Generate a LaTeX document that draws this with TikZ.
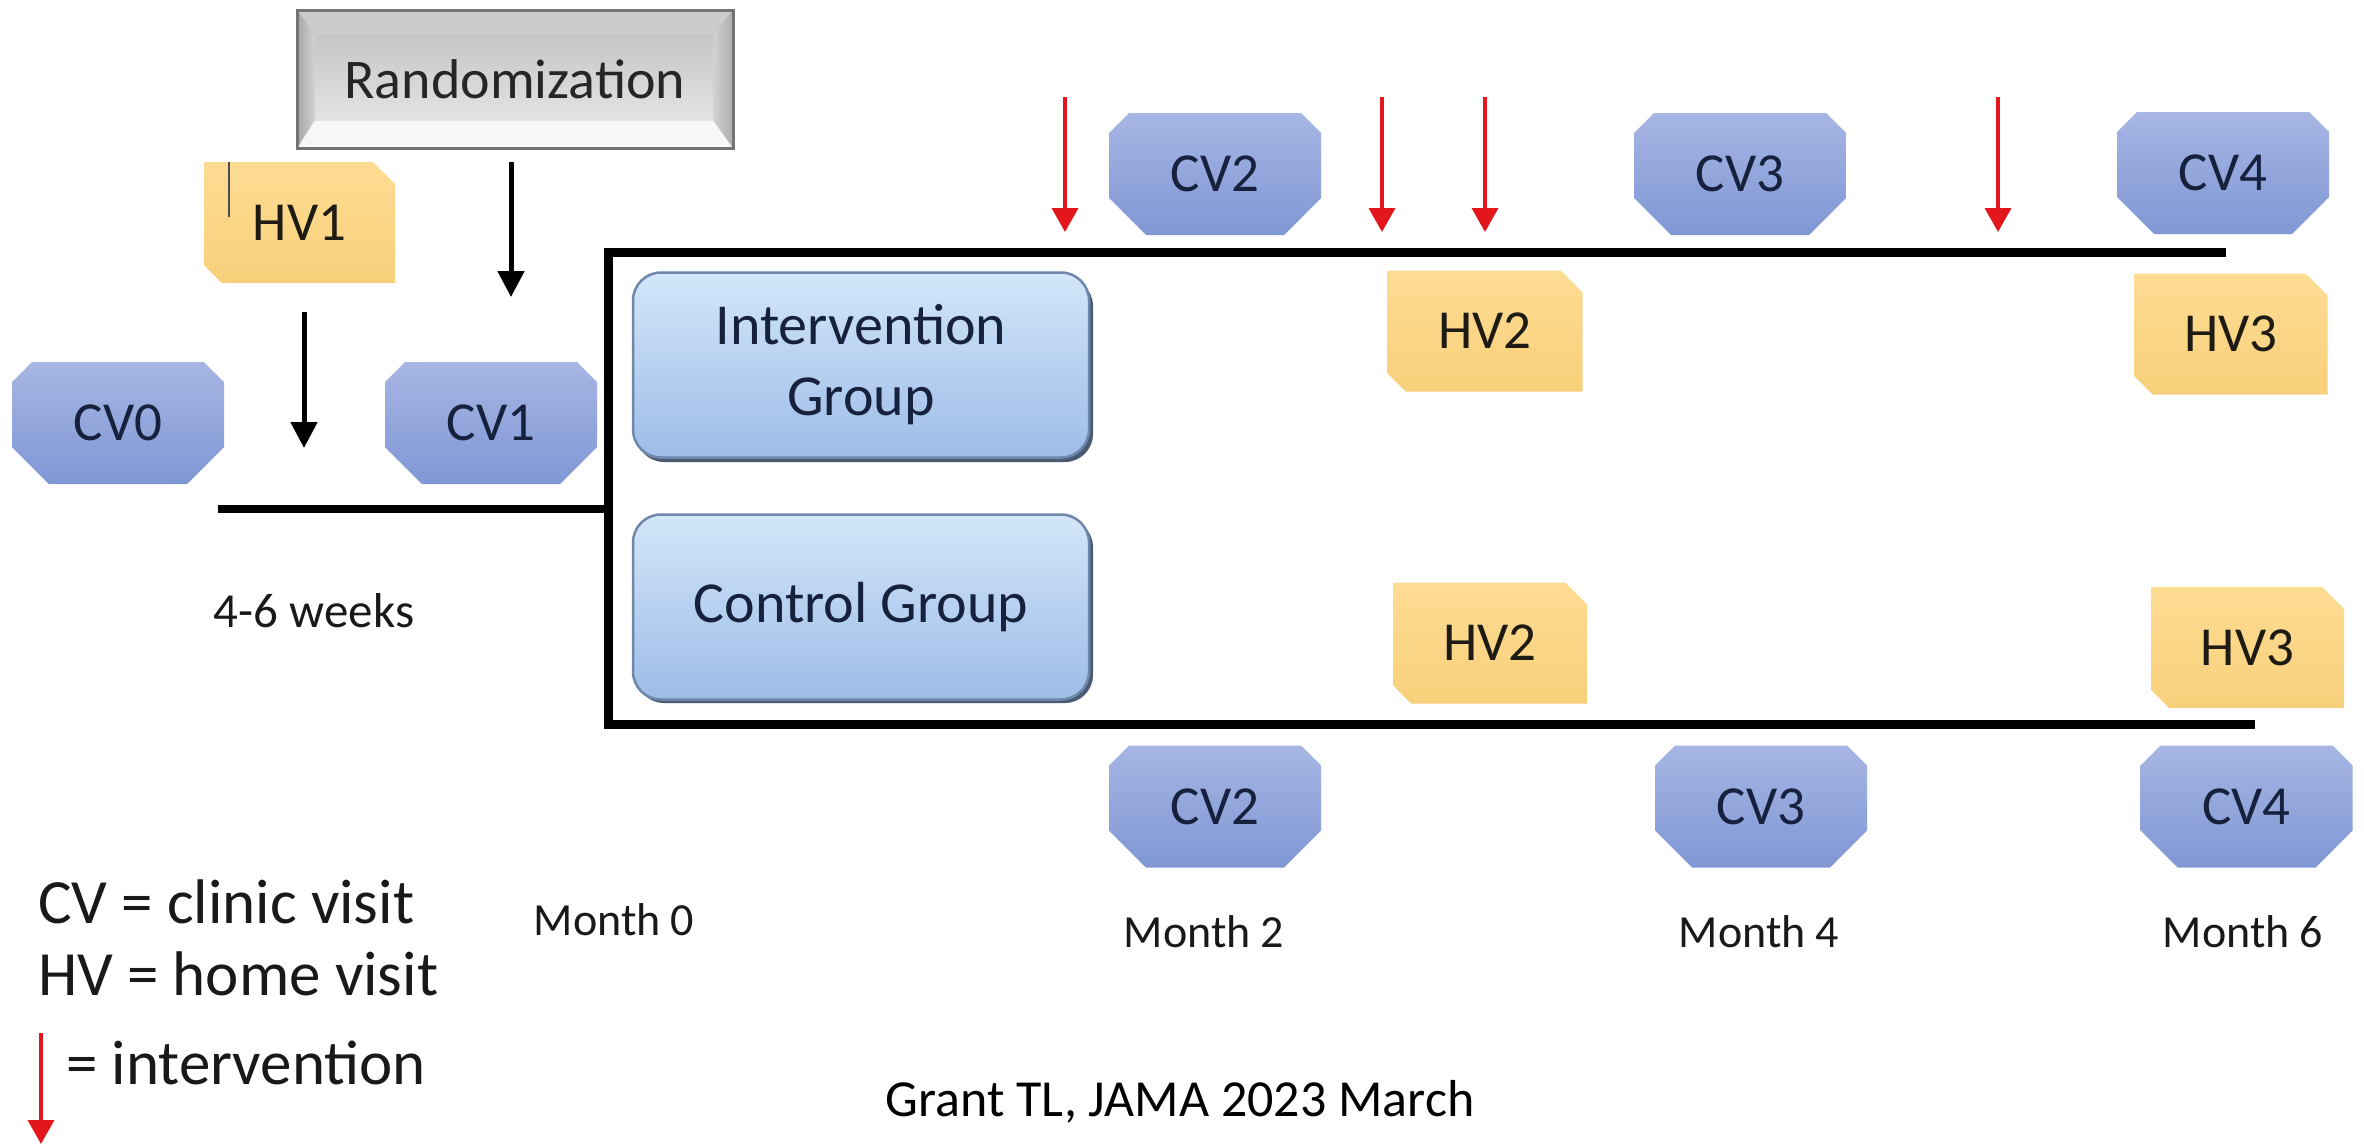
\documentclass[tikz,border=0pt]{standalone}
\usepackage{fontspec}
\setmainfont{Carlito}
\usetikzlibrary{calc,arrows.meta}
\pgfdeclarelayer{bg}
\pgfdeclarelayer{paper}
\pgfsetlayers{paper,bg,main}
\definecolor{cvtop}{HTML}{A7B6E4}
\definecolor{cvbot}{HTML}{7F97D4}
\definecolor{cvtext}{HTML}{16213D}
\definecolor{hvtop}{HTML}{FDDC93}
\definecolor{hvbot}{HTML}{F8D07B}
\definecolor{hvtext}{HTML}{1E1A14}
\definecolor{grptop}{HTML}{D3E6FA}
\definecolor{grpbot}{HTML}{9DBCE7}
\definecolor{grpedge}{HTML}{6E87AA}
\definecolor{grpshadow}{HTML}{4A5C74}
\definecolor{ired}{HTML}{E3161B}
\newcommand\cvshape[1]{%
  \shade[top color=cvtop,bottom color=cvbot]
   ($(#1.north west)+(20,0)$) -- ($(#1.north east)+(-20,0)$) -- ($(#1.north east)+(0,20)$)
   -- ($(#1.south east)+(0,-37)$) -- ($(#1.south east)+(-37,0)$) -- ($(#1.south west)+(37,0)$)
   -- ($(#1.south west)+(0,-37)$) -- ($(#1.north west)+(0,20)$) -- cycle;}
\newcommand\hvshape[1]{%
  \shade[top color=hvtop,bottom color=hvbot]
   (#1.north west) -- ($(#1.north east)+(-22,0)$) -- ($(#1.north east)+(0,22)$)
   -- (#1.south east) -- ($(#1.south west)+(18,0)$) -- ($(#1.south west)+(0,-18)$) -- cycle;}
\begin{document}
\begin{tikzpicture}[x=1pt,y=-1pt,
  every node/.style={inner sep=0pt,outer sep=0pt},
  cvbox/.style={minimum width=212pt,minimum height=122pt,text=cvtext,font=\fontsize{55}{60}\selectfont},
  hvbox/.style={minimum width=193pt,minimum height=121pt,text=hvtext,font=\fontsize{55}{60}\selectfont},
  grpbox/.style={minimum width=456pt,minimum height=185pt,align=center,text=cvtext,
    font=\fontsize{58}{71}\selectfont,rounded corners=28pt,top color=grptop,bottom color=grpbot,
    draw=grpedge,line width=2.5pt},
  randbox/.style={minimum width=436pt,minimum height=138pt,text=black!85,font=\fontsize{56}{60}\selectfont},
  lbl/.style={text=black!90,font=\fontsize{46}{50}\selectfont},
  leg/.style={anchor=west,text=black!90,font=\fontsize{63}{68}\selectfont},
  timeline/.style={line width=9pt,black,line join=miter},
  blkarrow/.style={line width=5pt,black,-{Triangle[width=26pt,length=26pt]}},
  redarrow/.style={line width=3.5pt,ired,-{Triangle[width=26pt,length=24pt]}},
]
\useasboundingbox (0,0) rectangle (2364,1144);
\begin{pgfonlayer}{paper}
  \fill[white] (0,0) rectangle (2364,1144);
\end{pgfonlayer}

% randomization
\node[randbox] (rand) at (515,79) {Randomization};
\begin{pgfonlayer}{bg}
  \fill[gray!55] (rand.north west) rectangle (rand.south east);
  \fill[gray!40] (rand.north west) -- (rand.north east) -- ($(rand.north east)+(-20,25)$) -- ($(rand.north west)+(18,25)$) -- cycle;
  \fill[white!97!black] (rand.south west) -- (rand.south east) -- ($(rand.south east)+(-20,-28)$) -- ($(rand.south west)+(18,-28)$) -- cycle;
  \shade[left color=gray!70,right color=gray!35] (rand.north west) -- ($(rand.north west)+(18,25)$) -- ($(rand.south west)+(18,-28)$) -- (rand.south west) -- cycle;
  \shade[left color=gray!35,right color=gray!65] (rand.north east) -- ($(rand.north east)+(-20,25)$) -- ($(rand.south east)+(-20,-28)$) -- (rand.south east) -- cycle;
  \shade[top color=gray!45,bottom color=gray!22] ($(rand.north west)+(18,25)$) rectangle ($(rand.south east)+(-20,-28)$);
  \draw[gray!90!black,line width=3pt] (rand.north west) rectangle (rand.south east);
\end{pgfonlayer}

% visit boxes
\node[cvbox] (cv0) at (118,423) {CV0};
\node[cvbox] (cv1) at (491,423) {CV1};
\node[hvbox,minimum width=191pt] (hv1) at (299.5,222.5) {HV1};
\node[cvbox] (cv2t) at (1215,174) {CV2};
\node[cvbox] (cv3t) at (1740,174) {CV3};
\node[cvbox] (cv4t) at (2223,173) {CV4};
\node[hvbox,minimum width=195pt] (hv2t) at (1485,331) {HV2};
\node[hvbox] (hv3t) at (2231,334) {HV3};
\node[hvbox,minimum width=194pt] (hv2b) at (1490,643) {HV2};
\node[hvbox] (hv3b) at (2247.5,647.5) {HV3};
\node[cvbox] (cv2b) at (1215,806.5) {CV2};
\node[cvbox] (cv3b) at (1761,806.5) {CV3};
\node[cvbox] (cv4b) at (2246.5,806.5) {CV4};
\begin{pgfonlayer}{bg}
  \cvshape{cv0}\cvshape{cv1}\cvshape{cv2t}\cvshape{cv3t}\cvshape{cv4t}
  \cvshape{cv2b}\cvshape{cv3b}\cvshape{cv4b}
  \hvshape{hv1}\hvshape{hv2t}\hvshape{hv3t}\hvshape{hv2b}\hvshape{hv3b}
\end{pgfonlayer}
\draw[line width=1.5pt,black!70] (229,162) -- (229,217);

% groups
\fill[grpshadow,rounded corners=28pt] (636,278) rectangle (1093,462);
\fill[grpshadow,rounded corners=28pt] (636,519) rectangle (1093,703);
\node[grpbox] (int) at (861,365) {Intervention\\Group};
\node[grpbox] (ctl) at (861,607) {Control Group};

% timeline
\coordinate (jl) at (218,509);
\coordinate (jv) at (608,509);
\coordinate (vt) at (608,252);
\coordinate (vb) at (608,724);
\coordinate (te) at (2226,252);
\coordinate (be) at (2255,724);
\draw[timeline,line width=8pt] (jl) -- (jv);
\draw[timeline] (te) -- (vt) -- (vb) -- (be);

% black arrows
\coordinate (ra) at (511,297);
\coordinate (ha) at (304,448);
\draw[blkarrow,shorten <=14pt] (rand.south -| ra) -- (ra);
\draw[blkarrow,shorten <=29pt] (hv1.south -| ha) -- (ha);

% red intervention arrows
\foreach \i/\x in {1/1065,2/1382,3/1485,4/1998}{
  \coordinate (rs\i) at (\x,97);
  \coordinate (re\i) at (\x,232);
  \draw[redarrow] (rs\i) -- (re\i);
}

% labels
\node[lbl,font=\fontsize{49}{52}\selectfont] (wk) at (314,611) {4-6 weeks};
\node[lbl] (m0) at (614,920) {Month 0};
\node[lbl] (m2) at (1204,932) {Month 2};
\node[lbl] (m4) at (1759,932) {Month 4};
\node[lbl] (m6) at (2243,932) {Month 6};

% legend
\node[leg] (lcv) at (38,902) {CV = clinic visit};
\node[leg] (lhv) at (38,974) {HV = home visit};
\node[leg] (lint) at (66,1063) {= intervention};
\coordinate (las) at (41,1033);
\coordinate (lae) at (41,1144);
\draw[redarrow] (las) -- (lae);

\node[text=black,font=\fontsize{52}{57}\selectfont] (src) at (1180,1102) {Grant TL, JAMA 2023 March};
\end{tikzpicture}
\end{document}
